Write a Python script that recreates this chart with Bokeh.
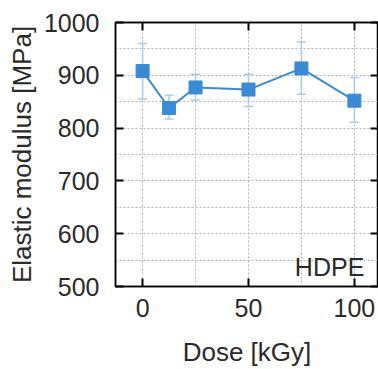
from bokeh.plotting import figure
from bokeh.models import (ColumnDataSource, Whisker, TeeHead, FixedTicker, LinearAxis,
                          Label, Range1d)
from bokeh.embed import file_html
from bokeh.resources import INLINE

dose = [0, 12.5, 25, 50, 75, 100]
modulus = [908, 838, 877, 873, 913, 852]
err_upper = [960, 862, 902, 902, 963, 896]
err_lower = [855, 817, 853, 841, 864, 811]
y_ticks = [500, 600, 700, 800, 900, 1000]
x_ticks = [0, 50, 100]
x_grid = [0, 25, 50, 75, 100]
y_grid = [550, 600, 650, 700, 750, 800, 850, 900, 950]

FONT = "Liberation Sans"
BLUE = "#3a8bd2"
ERR = "#a9cbea"
TXT = "#2a2a2a"

src = ColumnDataSource(dict(x=dose, y=modulus, up=err_upper, lo=err_lower))

p = figure(width=378, height=369, output_backend="svg", toolbar_location=None,
           x_range=Range1d(-12.8, 111.4), y_range=Range1d(500, 1000),
           min_border_left=115, min_border_right=0, min_border_top=22,
           min_border_bottom=82)

p.outline_line_color = "black"
p.outline_line_width = 1.5
p.background_fill_color = "white"
p.border_fill_color = "white"

# grids
p.xgrid.ticker = FixedTicker(ticks=x_grid)
p.ygrid.ticker = FixedTicker(ticks=y_grid)
for g in (p.xgrid[0], p.ygrid[0]):
    g.grid_line_color = "#b5b5b5"
    g.grid_line_dash = "2 2"
    g.grid_line_width = 1

# axes
xa = p.xaxis[0]
xa.ticker = FixedTicker(ticks=x_ticks)
xa.axis_label = "Dose [kGy]"
ya = p.yaxis[0]
ya.ticker = FixedTicker(ticks=y_ticks)
ya.axis_label = "Elastic modulus [MPa]"
for a in (xa, ya):
    a.major_tick_in = 8
    a.major_tick_out = 0
    a.major_tick_line_color = "black"
    a.major_tick_line_width = 2
    a.minor_tick_line_color = None
    a.axis_line_color = "black"
    a.axis_line_width = 1.5
    a.major_label_text_font = FONT
    a.major_label_text_font_size = "25px"
    a.major_label_text_color = TXT
    a.axis_label_text_font = FONT
    a.axis_label_text_font_size = "26px"
    a.axis_label_text_font_style = "normal"
    a.axis_label_text_color = TXT
xa.major_label_standoff = 12
xa.axis_label_standoff = 17
ya.major_label_standoff = 16
ya.axis_label_standoff = 4

# mirrored axes (ticks only)
ra = LinearAxis(ticker=FixedTicker(ticks=y_ticks),
                major_label_overrides={t: "" for t in y_ticks})
ta = LinearAxis(ticker=FixedTicker(ticks=x_ticks),
                major_label_overrides={t: "" for t in x_ticks})
for a in (ra, ta):
    a.major_tick_in = 8
    a.major_tick_out = 0
    a.major_tick_line_color = "black"
    a.major_tick_line_width = 2
    a.minor_tick_line_color = None
    a.axis_line_color = "black"
    a.axis_line_width = 1.5
    a.major_label_standoff = 0
p.add_layout(ra, "right")
p.add_layout(ta, "above")

# error bars
w = Whisker(source=src, base="x", upper="up", lower="lo",
            line_color=ERR, line_width=1.5,
            upper_head=TeeHead(size=9, line_color=ERR, line_width=1.5),
            lower_head=TeeHead(size=9, line_color=ERR, line_width=1.5))
p.add_layout(w)

p.line("x", "y", source=src, line_color=BLUE, line_width=2)
p.scatter("x", "y", source=src, marker="square", size=13,
          fill_color=BLUE, line_color=BLUE)

p.add_layout(Label(x=104.7, y=536, text="HDPE", text_align="right",
                   text_baseline="alphabetic", text_font=FONT,
                   text_font_size="25px", text_color=TXT))

open("out.html", "w").write(file_html(p, INLINE))
